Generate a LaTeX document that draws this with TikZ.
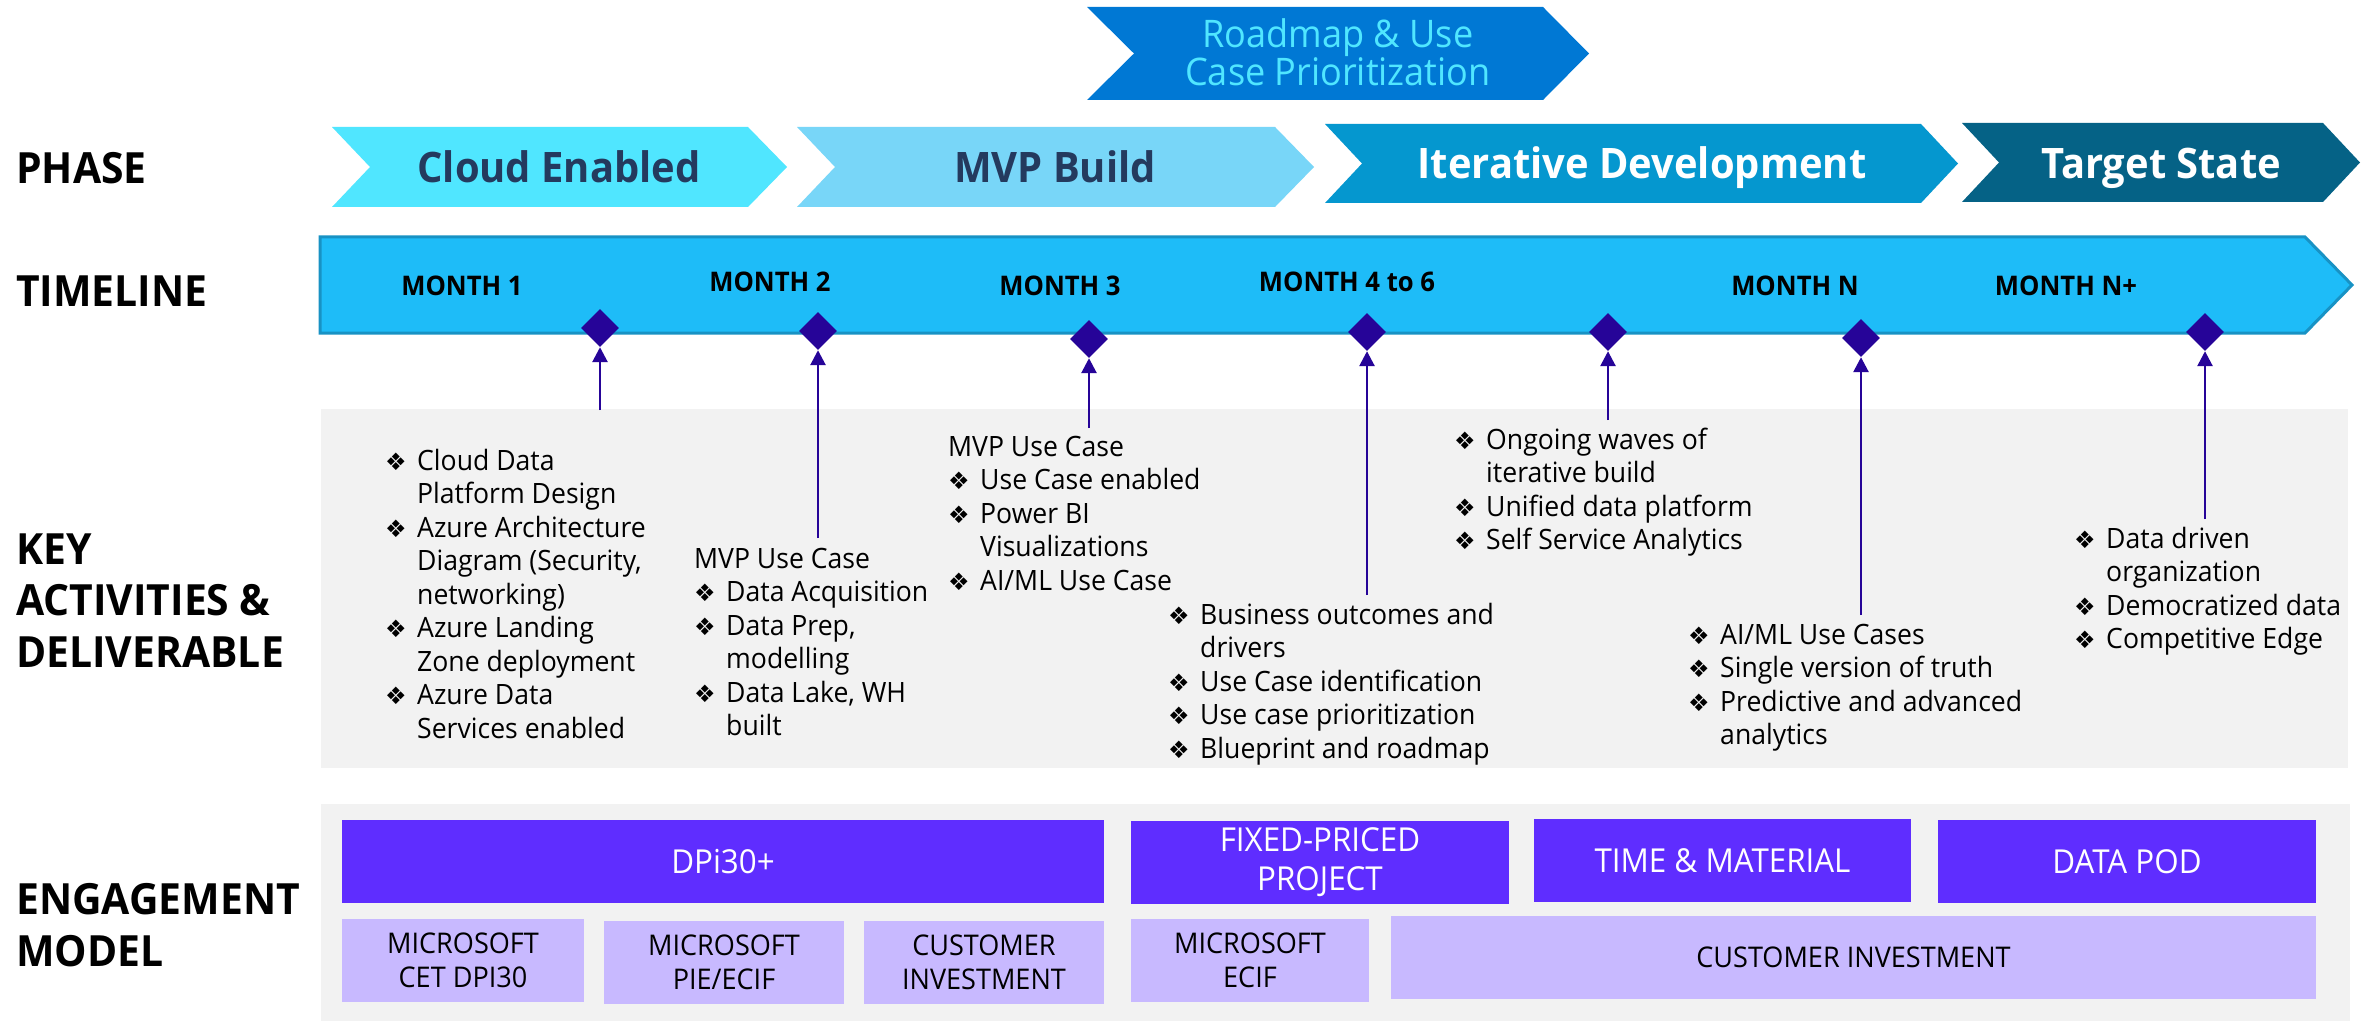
\documentclass[tikz,border=0pt]{standalone}
\usepackage{fontspec}
\setmainfont{Open Sans}[FakeStretch=0.95]
\newfontfamily\symf{DejaVu Sans}
\usetikzlibrary{shapes.geometric,arrows.meta}
\definecolor{roadc}{RGB}{0,120,212}
\definecolor{roadt}{RGB}{80,230,255}
\definecolor{cloudc}{RGB}{80,230,255}
\definecolor{mvpc}{RGB}{120,214,248}
\definecolor{iterc}{RGB}{5,151,207}
\definecolor{targc}{RGB}{5,98,134}
\definecolor{navyt}{RGB}{36,58,94}
\definecolor{tlc}{RGB}{30,188,248}
\definecolor{tlb}{RGB}{24,146,196}
\definecolor{dia}{RGB}{38,4,152}
\definecolor{grayb}{RGB}{242,242,242}
\definecolor{purp}{RGB}{95,45,255}
\definecolor{lpurp}{RGB}{200,185,255}
\newcommand\chevron[7]{\fill[#7] (#1,#5) -- (#3,#5) -- (#4,{(#5+#6)/2}) -- (#3,#6) -- (#1,#6) -- (#2,{(#5+#6)/2}) -- cycle;}
\newcommand\bl{\makebox[32pt][l]{{\symf\fontsize{24}{24}\selectfont ❖}}}
\newcommand\cn{\hspace*{32pt}}
\newcommand\blk[4]{\node[blk] (#1) at (#2,#3) {\parbox[t]{420pt}{\fontsize{28}{33.5}\selectfont\raggedright #4}};}
\tikzset{
  lbl/.style={anchor=base west, inner sep=0pt},
  phasetxt/.style={anchor=base, inner sep=0pt, font=\bfseries\fontsize{42}{48}\selectfont},
  month/.style={anchor=base, inner sep=0pt, font=\bfseries\fontsize{27}{30}\selectfont},
  mile/.style={diamond, fill=dia, minimum width=38pt, minimum height=38pt, inner sep=0pt},
  conn/.style={draw=dia, line width=2.7pt, -{Triangle[length=15pt,width=15pt]}},
  blk/.style={anchor=base west, inner sep=0pt},
  pbox/.style={fill=purp, text=white, inner sep=0pt, align=center, font=\fontsize{33}{39}\selectfont},
  lbox/.style={fill=lpurp, text=black, inner sep=0pt, align=center, font=\fontsize{28.5}{34}\selectfont},
}
\begin{document}
\begin{tikzpicture}[x=1pt,y=-1pt]
\useasboundingbox (0,0) rectangle (2366,1024);
\fill[white] (0,0) rectangle (2366,1024);

% left labels
\node[lbl] (phase) at (16,184) {\parbox[t]{400pt}{\bfseries\fontsize{43}{51}\selectfont PHASE}};
\node[lbl] (timeline) at (16,306) {\parbox[t]{400pt}{\bfseries\fontsize{43}{51}\selectfont TIMELINE}};
\node[lbl] (keyact) at (16,564) {\parbox[t]{400pt}{\bfseries\fontsize{43}{51.5}\selectfont KEY\\ACTIVITIES \&\\DELIVERABLE}};
\node[lbl] (engage) at (16,914) {\parbox[t]{400pt}{\bfseries\fontsize{43}{52}\selectfont ENGAGEMENT\\MODEL}};

% top chevron
\chevron{1087}{1134}{1543}{1589}{7}{100}{roadc}
\node[anchor=base, inner sep=0pt, text=roadt] (road) at (1338,48) {\parbox[t]{500pt}{\centering\fontsize{38}{38}\selectfont Roadmap \& Use\\Case Prioritization}};

% phase chevrons
\chevron{332}{370}{748}{787}{127}{207}{cloudc}
\chevron{797}{835}{1275}{1314}{127}{207}{mvpc}
\chevron{1325}{1362}{1921}{1958}{124}{203}{iterc}
\chevron{1962}{1999}{2323}{2360}{123}{202}{targc}
\node[phasetxt, text=navyt] (cloud) at (559,183) {Cloud Enabled};
\node[phasetxt, text=navyt] (mvp) at (1055,183) {MVP Build};
\node[phasetxt, text=white] (iter) at (1642,179) {Iterative Development};
\node[phasetxt, text=white] (target) at (2161,179) {Target State};

% timeline bar
\draw[fill=tlc, draw=tlb, line width=3pt] (320,237) -- (2305,237) -- (2352,285) -- (2305,333) -- (320,333) -- cycle;
\node[month] (m1) at (462,296) {MONTH 1};
\node[month] (m2) at (770,292) {MONTH 2};
\node[month] (m3) at (1060,295) {MONTH 3};
\node[month] (m4) at (1347,292) {MONTH 4 to 6};
\node[month] (mn) at (1795,296) {MONTH N};
\node[month] (mnp) at (2066,296) {MONTH N+};

% key activities box
\fill[grayb] (321,409) rectangle (2348,768);

% milestones
\node[mile] (d1) at (600,328) {};
\node[mile] (d2) at (818,331) {};
\node[mile] (d3) at (1089,339) {};
\node[mile] (d4) at (1367,332) {};
\node[mile] (d5) at (1608,332) {};
\node[mile] (d6) at (1861,338) {};
\node[mile] (d7) at (2205,332) {};
\coordinate (b1) at (600,410);
\coordinate (b2) at (818,538);
\coordinate (b3) at (1089,428);
\coordinate (b4) at (1367,595);
\coordinate (b5) at (1608,420);
\coordinate (b6) at (1861,615);
\coordinate (b7) at (2205,519);
\foreach \i in {1,...,7} {\draw[conn] (b\i) -- (d\i.south);}

% activity texts
\blk{t1}{385}{470}{\bl Cloud Data\\\cn Platform Design\\\bl Azure Architecture\\\cn Diagram (Security,\\\cn networking)\\\bl Azure Landing\\\cn Zone deployment\\\bl Azure Data\\\cn Services enabled}
\blk{t2}{694}{568}{MVP Use Case\\\bl Data Acquisition\\\bl Data Prep,\\\cn modelling\\\bl Data Lake, WH\\\cn built}
\blk{t3}{948}{456}{MVP Use Case\\\bl Use Case enabled\\\bl Power BI\\\cn Visualizations\\\bl AI/ML Use Case}
\blk{t4}{1168}{624}{\bl Business outcomes and\\\cn drivers\\\bl Use Case identification\\\bl Use case prioritization\\\bl Blueprint and roadmap}
\blk{t5}{1454}{449}{\bl Ongoing waves of\\\cn iterative build\\\bl Unified data platform\\\bl Self Service Analytics}
\blk{t6}{1688}{644}{\bl AI/ML Use Cases\\\bl Single version of truth\\\bl Predictive and advanced\\\cn analytics}
\blk{t7}{2074}{548}{\bl Data driven\\\cn organization\\\bl Democratized data\\\bl Competitive Edge}

% engagement model
\fill[grayb] (321,804) rectangle (2350,1021);
\node[pbox, minimum width=762pt, minimum height=83pt] (dpi) at (723,861.5) {DPi30+};
\node[pbox, minimum width=378pt, minimum height=83pt] (fixed) at (1320,862.5) {FIXED-PRICED\\PROJECT};
\node[pbox, minimum width=377pt, minimum height=83pt] (tm) at (1722.5,860.5) {TIME \& MATERIAL};
\node[pbox, minimum width=378pt, minimum height=83pt] (pod) at (2127,861.5) {DATA POD};
\node[lbox, minimum width=242pt, minimum height=83pt] (cet) at (463,960.5) {MICROSOFT\\CET DPI30};
\node[lbox, minimum width=240pt, minimum height=83pt] (pie) at (724,962.5) {MICROSOFT\\PIE/ECIF};
\node[lbox, minimum width=240pt, minimum height=83pt] (cust1) at (984,962.5) {CUSTOMER\\INVESTMENT};
\node[lbox, minimum width=238pt, minimum height=83pt] (ecif) at (1250,960.5) {MICROSOFT\\ECIF};
\node[lbox, minimum width=925pt, minimum height=83pt] (cust2) at (1853.5,957.5) {CUSTOMER INVESTMENT};
\end{tikzpicture}
\end{document}
